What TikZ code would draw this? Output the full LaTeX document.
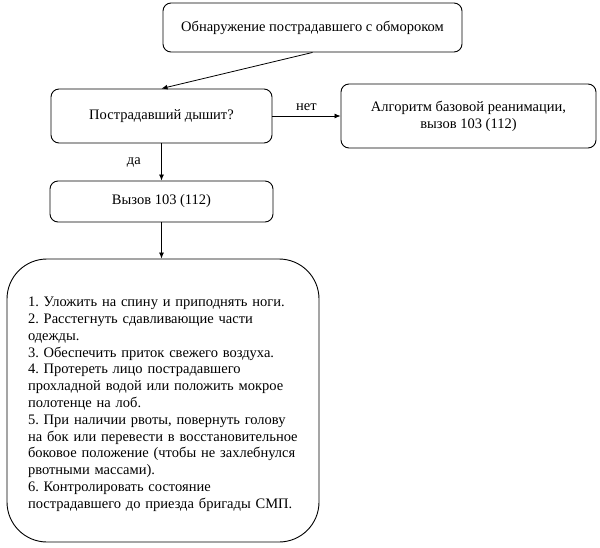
\documentclass[tikz,border=0pt]{standalone}
\usepackage{fontspec}
\setmainfont{Liberation Serif}
\usetikzlibrary{arrows.meta}
\frenchspacing
\begin{document}
\begin{tikzpicture}[x=1pt,y=-1pt,
  box/.style={draw, line width=0.9pt, rounded corners=8pt, align=center, inner sep=0pt},
  arr/.style={draw, line width=0.8pt, -{Latex[length=6pt,width=5pt]}},
  lbl/.style={font=\fontsize{14.5}{16.8}\selectfont},
  every node/.style={font=\fontsize{14.5}{16.8}\selectfont}]
\useasboundingbox[fill=white] (0,0) rectangle (600,547);
\node[box, minimum width=299pt, minimum height=49pt] (top) at (312.5,27.5) {Обнаружение пострадавшего с обмороком};
\node[box, minimum width=221pt, minimum height=54pt] (q) at (161.5,116) {Пострадавший дышит?};
\node[box, minimum width=255pt, minimum height=64pt] (alg) at (468.5,116) {Алгоритм базовой реанимации,\\вызов 103 (112)};
\node[box, minimum width=223pt, minimum height=41pt] (call) at (161.5,201.5) {Вызов 103 (112)};
\node[box, rounded corners=40pt, minimum width=312pt, minimum height=283pt, text width=270pt, align=left] (steps) at (163,400.5) {\rule{0pt}{17pt}1. Уложить на спину и приподнять ноги.\\
2. Расстегнуть сдавливающие части\\
одежды.\\
3. Обеспечить приток свежего воздуха.\\
4. Протереть лицо пострадавшего\\
прохладной водой или положить мокрое\\
полотенце на лоб.\\
5. При наличии рвоты, повернуть голову\\
на бок или перевести в восстановительное\\
боковое положение (чтобы не захлебнулся\\
рвотными массами).\\
6. Контролировать состояние\\
пострадавшего до приезда бригады СМП.};
\draw[arr] (top.south) -- (q.north);
\draw[arr] (q.east) -- (alg.west) node[midway, above=2pt, lbl] {нет};
\draw[arr] (q.south) -- (call.north) node[midway, left=17pt, lbl] {да};
\draw[arr] (call.south) -- (call.south |- steps.north);
\end{tikzpicture}
\end{document}
